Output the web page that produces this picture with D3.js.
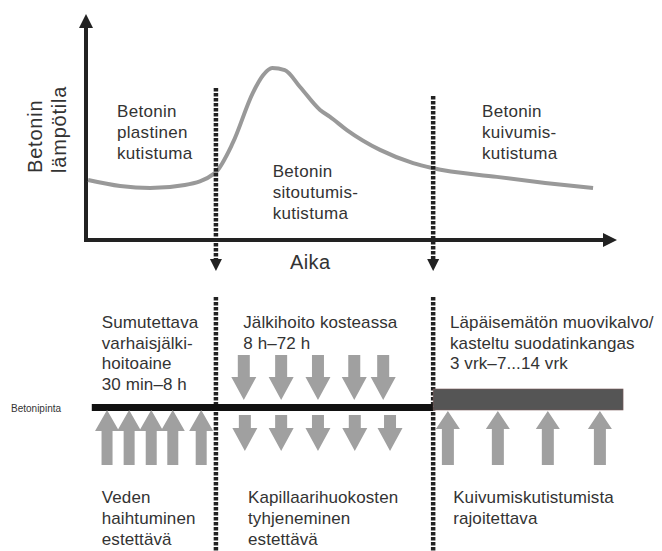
<!DOCTYPE html>
<html>
<head>
<meta charset="utf-8">
<script src="https://cdn.jsdelivr.net/npm/d3@7"></script>
<style>
  body { margin: 0; background: #fff; }
  text { font-family: "Liberation Sans", Arial, sans-serif; fill: #333; }
</style>
</head>
<body>
<script>
// lampotilakayra (aika 0..100, lampotila 0..100)
var curveTime = [0.4, 6.5, 12.2, 18.8, 24.5, 27.9, 31.7, 33.7, 35.4, 37.8, 40.7, 44.5, 46.4, 49.6, 55.9, 62.2, 65.8, 78.1, 87.3, 96.4];
var curveTemp = [26.9, 24.2, 23.3, 24.7, 30.0, 43.5, 65.9, 74.0, 77.1, 76.2, 68.6, 58.3, 55.2, 49.3, 40.4, 34.5, 32.3, 28.3, 25.6, 23.3];

// vaiheiden rajat
var phaseBounds = [24.7, 66.0];

var topLabels = [
  {t: 5.9, lines: ["Betonin", "plastinen", "kutistuma"]},
  {t: 35.5, lines: ["Betonin", "sitoutumis-", "kutistuma"], low: true},
  {t: 75.3, lines: ["Betonin", "kuivumis-", "kutistuma"]}
];

var careLabels = [
  {t: 3, lines: ["Sumutettava", "varhaisjälki-", "hoitoaine", "30 min–8 h"]},
  {t: 29.9, lines: ["Jälkihoito kosteassa", "8 h–72 h"]},
  {t: 69.2, lines: ["Läpäisemätön muovikalvo/", "kasteltu suodatinkangas", "3 vrk–7...14 vrk"]}
];

var effectLabels = [
  {t: 3, lines: ["Veden", "haihtuminen", "estettävä"]},
  {t: 30.8, lines: ["Kapillaarihuokosten", "tyhjeneminen", "estettävä"]},
  {t: 69.8, lines: ["Kuivumiskutistumista", "rajoitettava"]}
];

var evapArrows = [4.0, 8.2, 12.4, 16.5, 21.9];
var wetArrowsAbove = [30.0, 37.1, 44.1, 51.0, 56.5];
var wetArrowsBelow = [30.2, 37.1, 44.1, 51.1, 57.8];
var dryArrows = [68.8, 78.3, 87.8, 97.7];

var surfaceStart = 1.1, filmEnd = 102.1;

var w = 662, h = 551;
var svg = d3.select("body").append("svg").attr("width", w).attr("height", h);

var x = d3.scaleLinear().domain([0, 100]).range([86, 612]);
var y = d3.scaleLinear().domain([0, 100]).range([240, 17]);

var dark = "#222", grey = "#a0a0a0";

// akselit
svg.append("line").attr("x1", x(0)).attr("y1", y(0)).attr("x2", x(0)).attr("y2", 25)
  .attr("stroke", dark).attr("stroke-width", 4);
svg.append("line").attr("x1", x(0) - 2).attr("y1", y(0)).attr("x2", 606).attr("y2", y(0))
  .attr("stroke", dark).attr("stroke-width", 4);
svg.append("path").attr("d", "M" + x(0) + ",14 L" + (x(0) + 7) + ",28 L" + (x(0) - 7) + ",28 Z").attr("fill", dark);
svg.append("path").attr("d", "M617," + y(0) + " L603," + (y(0) - 7) + " L603," + (y(0) + 7) + " Z").attr("fill", dark);

// kayra
var pts = curveTime.map(function(t, i) { return [x(t), y(curveTemp[i])]; });
svg.append("path")
  .attr("d", d3.line().curve(d3.curveMonotoneX)(pts))
  .attr("fill", "none").attr("stroke", "#999").attr("stroke-width", 4);

// pystyviivat
var topStart = [88, 96];
phaseBounds.forEach(function(b, i) {
  var bx = x(b);
  svg.append("line").attr("x1", bx).attr("x2", bx).attr("y1", topStart[i]).attr("y2", 260)
    .attr("stroke", dark).attr("stroke-width", 4.5).attr("stroke-dasharray", "3.5,1.5");
  svg.append("path").attr("d", "M" + bx + ",271 L" + (bx - 6) + ",259 L" + (bx + 6) + ",259 Z").attr("fill", dark);
  svg.append("line").attr("x1", bx).attr("x2", bx).attr("y1", 297).attr("y2", 551)
    .attr("stroke", dark).attr("stroke-width", 4.5).attr("stroke-dasharray", "3.5,1.5");
});

// akselien otsikot
svg.append("text").attr("x", 290).attr("y", 269).attr("font-size", 20).attr("letter-spacing", 0.4).text("Aika");
var yl = svg.append("g").attr("transform", "translate(42,173) rotate(-90)")
  .attr("font-size", 20).attr("letter-spacing", 0.8);
yl.append("text").attr("x", 0).attr("y", 0).text("Betonin");
yl.append("text").attr("x", 0).attr("y", 24).text("lämpötila");

function multiline(list, y0, lh, fs, ls) {
  list.forEach(function(d) {
    var t = svg.append("text").attr("font-size", fs).attr("letter-spacing", ls);
    d.lines.forEach(function(l, i) {
      t.append("tspan").attr("x", x(d.t)).attr("y", (d.low ? y0 + 60 : y0) + i * lh).text(l);
    });
  });
}
multiline(topLabels, 117, 21, 17, 0.3);
multiline(careLabels, 328, 20.5, 17, 0.1);
multiline(effectLabels, 503, 21, 17, 0.1);

// betonipinta
svg.append("text").attr("x", 11).attr("y", 412).attr("font-size", 10).text("Betonipinta");
svg.append("rect").attr("x", x(surfaceStart)).attr("y", 404).attr("width", x(phaseBounds[1]) - x(surfaceStart)).attr("height", 7)
  .attr("fill", "#111");
svg.append("rect").attr("x", x(phaseBounds[1])).attr("y", 389).attr("width", x(filmEnd) - x(phaseBounds[1])).attr("height", 21)
  .attr("fill", "#555").attr("stroke", "#7a5a5a").attr("stroke-width", 0.6);

// nuolet
function arrow(cx, tip, headBase, end, hw, sw) {
  return "M" + cx + "," + tip + " L" + (cx + hw) + "," + headBase + " L" + (cx + sw) + "," + headBase +
    " L" + (cx + sw) + "," + end + " L" + (cx - sw) + "," + end + " L" + (cx - sw) + "," + headBase +
    " L" + (cx - hw) + "," + headBase + " Z";
}
function arrows(list, tip, headBase, end, hw, sw) {
  svg.append("g").selectAll("path").data(list).enter().append("path")
    .attr("d", function(d) { return arrow(x(d), tip, headBase, end, hw, sw); })
    .attr("fill", grey);
}
arrows(evapArrows, 410, 431, 465, 12, 5.5);
arrows(wetArrowsAbove, 400, 377, 355, 12.5, 6);
arrows(wetArrowsBelow, 451, 428, 415, 12.5, 6);
arrows(dryArrows, 411, 429, 465, 12, 6);
</script>
</body>
</html>
